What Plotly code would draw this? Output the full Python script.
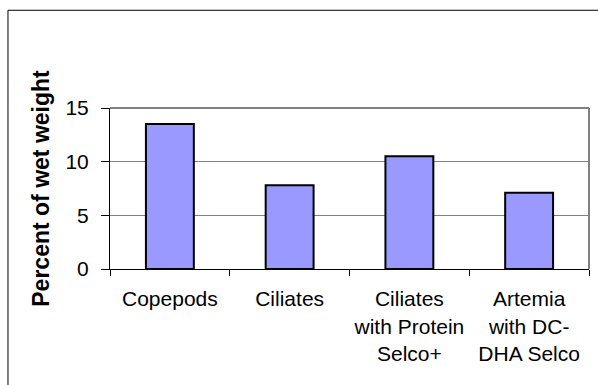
import plotly.graph_objects as go

categories = ["Copepods", "Ciliates", "Ciliates<br>with Protein<br>Selco+", "Artemia<br>with DC-<br>DHA Selco"]
values = [13.5, 7.8, 10.5, 7.1]
y_ticks = [0, 5, 10, 15]
y_title = "<b>Percent of wet weight</b>"

FONT = "Liberation Sans, Arial, sans-serif"

fig = go.Figure()
fig.add_trace(go.Bar(
    x=categories, y=values, width=0.4,
    marker=dict(color="#9999FF", line=dict(color="black", width=2)),
))

fig.update_layout(
    width=598, height=385,
    margin=dict(l=110, r=9, t=108, b=115.5),
    paper_bgcolor="white", plot_bgcolor="white",
    showlegend=False,
    font=dict(family=FONT, size=21, color="black"),
    bargap=0.6,
)

fig.update_xaxes(
    type="category", tickson="boundaries", ticks="outside", ticklen=6,
    tickcolor="black", tickwidth=1, showline=True, linecolor="black", linewidth=1,
    showgrid=False, tickfont=dict(size=21), ticklabelstandoff=11,
)
fig.update_yaxes(
    range=[0, 15], tickvals=y_ticks, ticks="outside", ticklen=8, tickcolor="black",
    showline=True, linecolor="black", linewidth=1, showgrid=True, gridcolor="#808080",
    gridwidth=1, zeroline=False, tickfont=dict(size=21), ticklabelstandoff=8,
    title=dict(text=y_title, font=dict(size=23), standoff=9),
)

# plot-area border (top and right, gray)
fig.add_shape(type="line", xref="paper", yref="paper", x0=0, x1=1, y0=1, y1=1,
              line=dict(color="#808080", width=2), layer="above")
fig.add_shape(type="line", xref="paper", yref="paper", x0=1, x1=1, y0=0, y1=1,
              line=dict(color="#808080", width=2), layer="above")
# outer chart frame
fig.add_shape(type="rect", xref="paper", yref="paper", x0=-0.213, x1=1.2, y0=-1.0, y1=1.607,
              line=dict(color="black", width=1), layer="below")

fig.write_html("out.html")
